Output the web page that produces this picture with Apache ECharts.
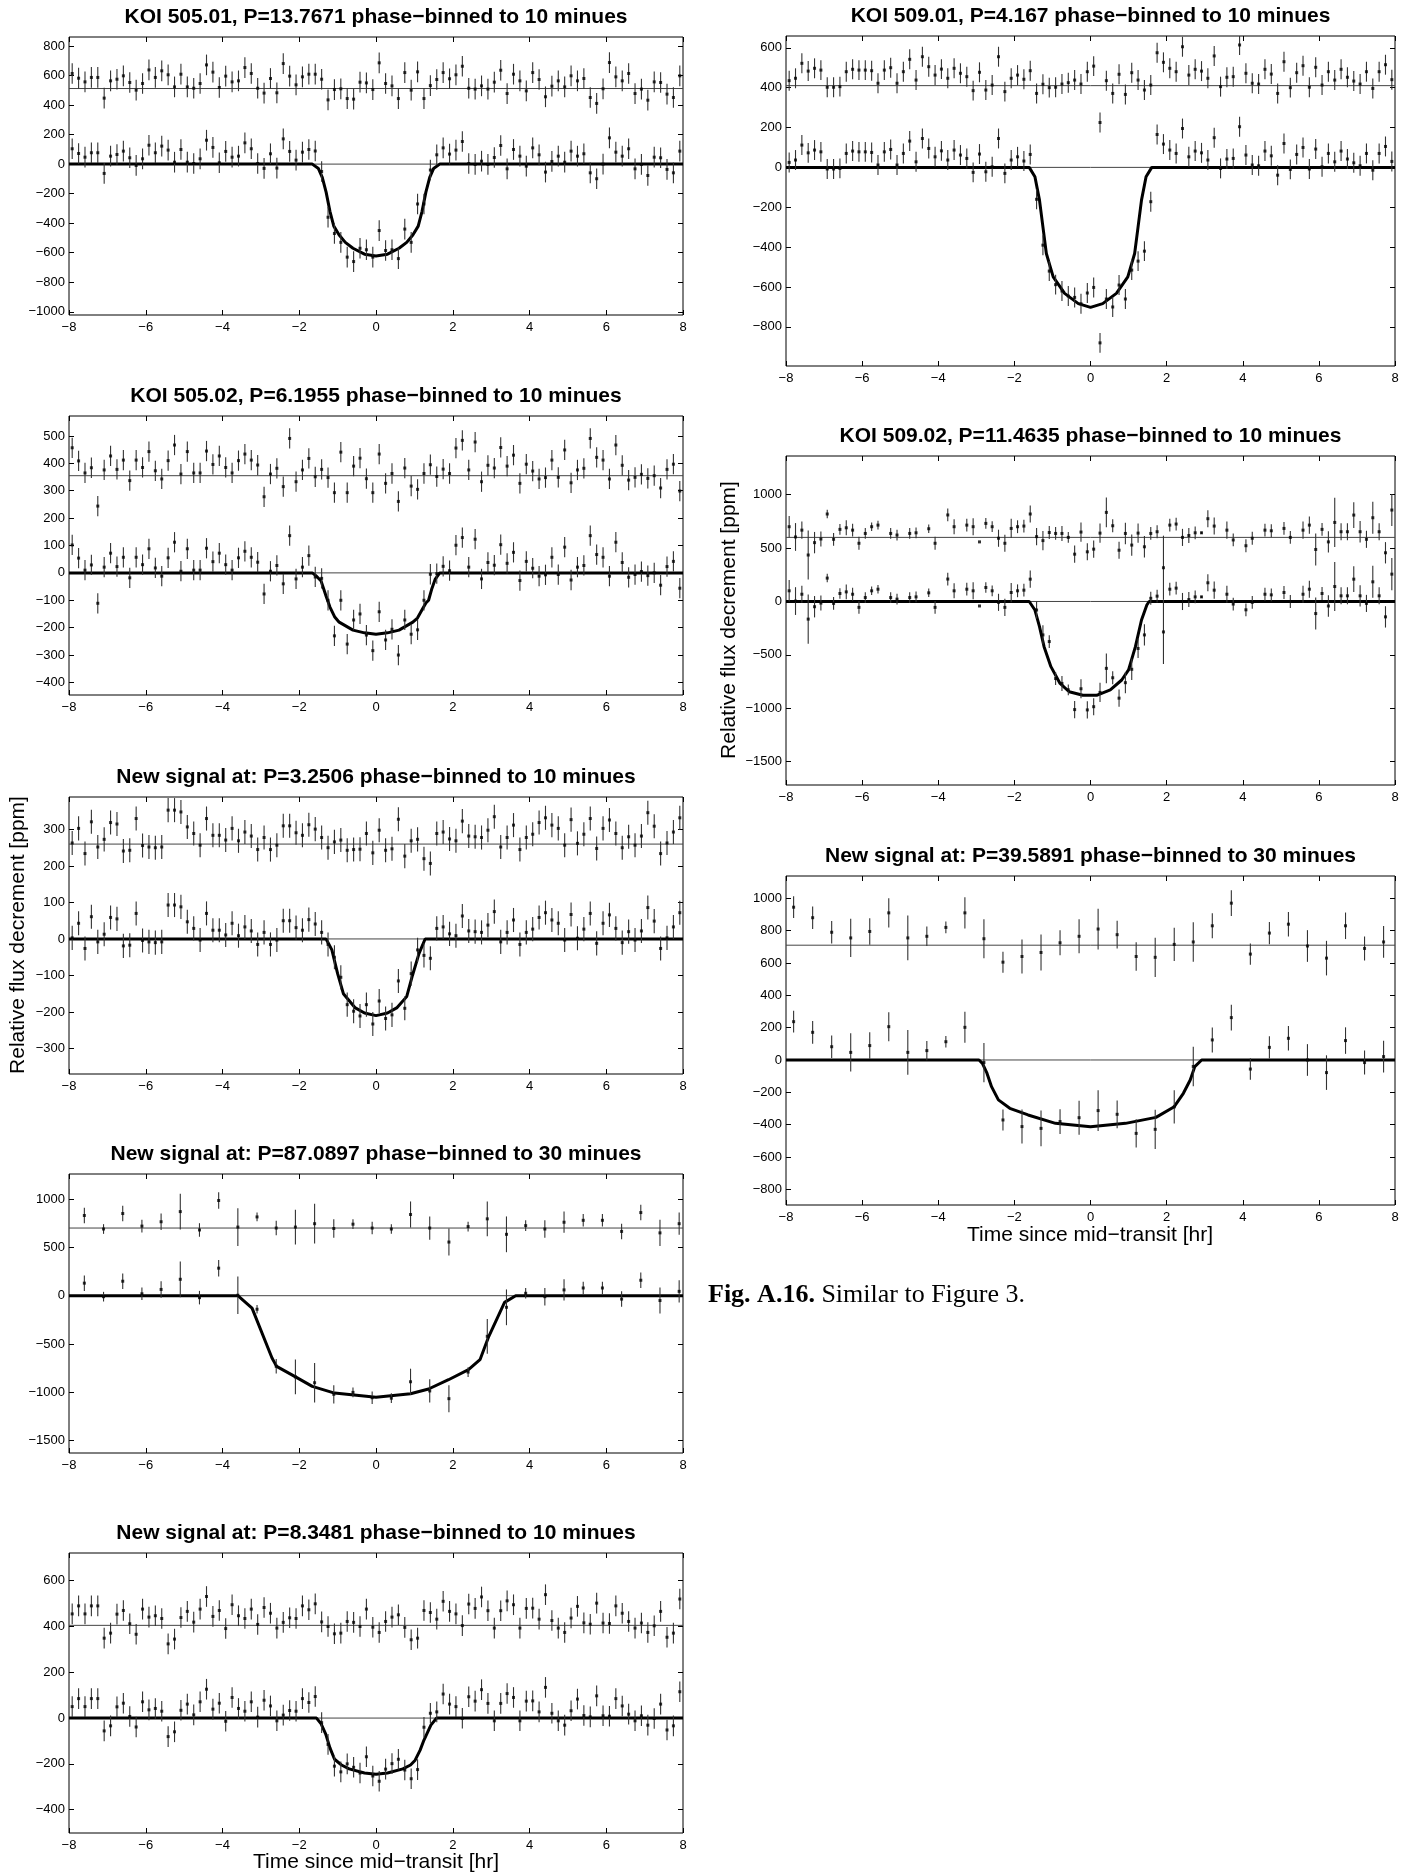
<!DOCTYPE html>
<html><head><meta charset="utf-8">
<script src="https://cdn.jsdelivr.net/npm/echarts@6/dist/echarts.min.js"></script>
<style>html,body{margin:0;padding:0;background:#fff}#c{width:1415px;height:1876px}</style>
</head><body><div id="c"></div>
<script>
// ---------- tick labels ----------
const xTicks = [-8, -6, -4, -2, 0, 2, 4, 6, 8];

// ---------- time grids (bin centres, hr) ----------
function binCenters(start, step, n) { const a = []; for (let i = 0; i < n; i++) a.push(start + step * i); return a; }
const time10 = binCenters(-8 + 1 / 12, 1 / 6, 96);
const time30a = binCenters(-7.6, 0.5, 32);
const time30b = binCenters(-7.8, 0.5, 32);

// ---------- KOI 505.01 ----------
const t50501 = "KOI 505.01, P=13.7671 phase\u2212binned to 10 minues";
const top50501 = [614,582,557,587,587,447,564,575,598,553,501,546,638,587,632,605,523,609,523,514,546,672,623,519,596,557,564,654,614,514,481,580,483,681,596,537,591,609,609,575,435,505,510,444,440,555,550,505,686,546,530,444,620,501,625,444,532,573,620,578,605,663,514,508,530,508,555,636,478,609,564,496,620,573,456,528,564,523,598,564,580,451,411,510,688,591,564,614,478,508,433,557,553,474,451,598];
const bot50501 = [104,72,47,77,77,-63,54,65,88,43,-9,36,128,77,122,95,13,99,13,4,36,162,113,9,86,47,54,144,104,4,-29,70,-27,171,86,27,81,99,
  89,-50,-360,-470,-530,-630,-660,-570,-580,-630,-450,-585,-580,-640,-440,-530,-270,-270,-40,
  63,110,68,95,153,4,-2,20,-2,45,126,-32,99,54,-14,110,63,-54,18,54,13,88,54,70,-59,-99,0,178,81,54,104,-32,-2,-77,47,43,-36,-59,88];
const model50501 = [[-8,0],[-1.66,0],[-1.5,-30],[-1.4,-90],[-1.3,-190],[-1.2,-320],[-1.1,-420],[-0.96,-480],[-0.8,-530],[-0.6,-570],[-0.3,-610],[0,-622],[0.3,-610],[0.6,-570],[0.8,-530],[0.96,-480],[1.1,-420],[1.2,-320],[1.3,-190],[1.4,-90],[1.5,-30],[1.66,0],[8,0]];
const off50501 = 512, err50501 = 70;
const yt50501 = [-1000,-800,-600,-400,-200,0,200,400,600,800], yr50501 = [-1022, 861];

// ---------- KOI 505.02 ----------
const t50502 = "KOI 505.02, P=6.1955 phase\u2212binned to 10 minues";
const top50502 = [457,409,365,384,244,376,427,378,412,337,412,385,443,373,343,410,467,361,443,365,365,445,396,427,385,365,410,434,412,394,278,361,382,315,491,333,376,418,351,378,348,293,441,293,390,419,344,293,434,327,363,261,383,317,305,363,395,352,379,363,456,484,376,478,333,393,383,458,390,430,327,397,372,343,348,412,349,449,329,376,382,491,422,412,343,467,393,339,349,360,345,355,310,378,397,299];
const bot50502 = [102,54,10,29,-111,21,72,23,57,-18,57,30,88,18,-12,55,112,6,88,10,10,90,41,72,30,10,55,79,57,39,-77,6,27,-40,136,-22,21,63,
  -15,-20,-100,-230,-100,-260,-172,-150,-227,-284,-142,-245,-206,-300,-172,-224,-208,-100,-5,-3,
  24,8,101,129,21,123,-22,38,28,103,35,75,-28,42,17,-12,-7,57,-6,94,-26,21,27,136,67,57,-12,112,38,-16,-6,5,-10,0,-45,23,42,-56];
const model50502 = [[-8,0],[-1.66,0],[-1.55,-12],[-1.43,-30],[-1.3,-85],[-1.2,-125],[-1.08,-160],[-0.96,-180],[-0.6,-209],[-0.3,-219],[0,-224],[0.3,-219],[0.6,-209],[0.96,-180],[1.08,-165],[1.2,-135],[1.3,-110],[1.37,-100],[1.45,-60],[1.54,-24],[1.66,0],[8,0]];
const off50502 = 355, err50502 = 37;
const yt50502 = [-400,-300,-200,-100,0,100,200,300,400,500], yr50502 = [-446, 573];

// ---------- New signal P=3.2506 ----------
const tNew32506 = "New signal at: P=3.2506 phase\u2212binned to 10 minues";
const topNew32506 = [263,303,234,321,252,273,319,315,241,243,330,256,252,250,252,353,353,348,307,289,257,330,284,284,271,303,269,293,282,245,278,245,257,310,310,291,284,313,301,278,250,266,271,243,245,246,289,236,298,243,247,328,227,269,273,220,207,289,293,274,269,323,282,280,278,298,335,252,278,312,245,278,287,319,332,312,303,257,327,262,287,330,248,303,326,289,250,280,257,282,346,309,234,263,293,332];
const botNew32506 = [3,43,-26,61,-8,13,59,55,-19,-17,70,-4,-8,-10,-8,93,93,88,47,29,-3,70,24,24,11,43,9,33,22,-15,18,-15,-3,50,50,31,24,53,41,18,
  -15,-50,-105,-180,-198,-211,-180,-233,-170,-218,-208,-115,-190,-95,-30,-45,-53,
  29,33,14,9,63,22,20,18,38,75,-8,18,52,-15,18,27,59,72,52,43,-3,67,2,27,70,-12,43,66,29,-10,20,-3,22,86,49,-26,3,33,72];
const modelNew32506 = [[-8,0],[-1.3,0],[-1.15,-30],[-1.0,-95],[-0.85,-150],[-0.55,-188],[-0.3,-203],[0,-210],[0.3,-203],[0.55,-188],[0.8,-158],[0.95,-100],[1.12,-40],[1.28,0],[8,0]];
const offNew32506 = 260, errNew32506 = 33;
const ytNew32506 = [-300,-200,-100,0,100,200,300], yrNew32506 = [-370, 389];

// ---------- New signal P=87.0897 ----------
const tNew870897 = "New signal at: P=87.0897 phase\u2212binned to 30 minues";
const topNew870897 = [830,690,850,720,765,870,680,985,710,815,700,710,745,695,740,700,690,840,700,555,715,795,635,725,690,760,780,780,665,860,650,745];
const botNew870897 = [130,-10,150,20,65,170,-20,285,5,-140,-730,-840,-900,-1020,-1000,-1055,-1060,-890,-985,-1065,-790,-420,-120,25,-10,60,80,80,-35,160,-50,45];
const errNew870897 = [80,50,80,65,85,185,70,85,195,45,75,180,205,95,50,65,50,135,120,140,50,180,185,55,90,110,65,65,80,80,135,115];
const modelNew870897 = [[-8,0],[-3.6,0],[-3.23,-128],[-2.71,-645],[-2.59,-731],[-2.12,-834],[-1.66,-938],[-1.08,-1007],[0,-1050],[0.9,-1014],[1.37,-965],[1.89,-869],[2.41,-765],[2.71,-662],[2.94,-420],[3.35,-69],[3.64,0],[8,0]];
const offNew870897 = 700;
const ytNew870897 = [-1500,-1000,-500,0,500,1000], yrNew870897 = [-1627, 1259];

// ---------- New signal P=8.3481 ----------
const tNew83481 = "New signal at: P=8.3481 phase\u2212binned to 10 minues";
const topNew83481 = [455,490,455,490,490,349,371,454,470,412,366,476,441,447,435,324,345,439,466,419,476,531,444,470,391,495,447,435,476,409,483,458,393,418,438,435,490,473,499,420,400,368,371,422,418,400,476,397,374,422,441,451,396,342,349,470,461,432,510,466,455,404,498,479,529,469,393,469,512,495,393,479,480,432,539,426,393,374,437,488,416,410,502,415,413,490,458,422,393,415,374,403,466,353,371,520];
const botNew83481 = [50,85,50,85,85,-56,-34,49,65,7,-39,71,36,42,30,-81,-60,34,61,14,71,126,39,65,-14,90,42,30,71,4,78,53,-12,13,33,30,85,68,
  94,-20,-115,-210,-235,-200,-215,-240,-169,-253,-276,-223,-199,-180,-227,-265,-225,-40,21,27,
  105,61,50,-1,93,74,124,64,-12,64,107,90,-12,74,75,27,134,21,-12,-31,32,83,11,5,97,10,8,85,53,17,-12,10,-31,-2,61,-52,-34,115];
const modelNew83481 = [[-8,0],[-1.55,0],[-1.43,-25],[-1.31,-70],[-1.2,-130],[-1.08,-180],[-0.9,-205],[-0.7,-222],[-0.3,-240],[0,-245],[0.3,-240],[0.7,-222],[0.9,-205],[1.02,-184],[1.15,-140],[1.25,-96],[1.43,-31],[1.58,0],[8,0]];
const offNew83481 = 405, errNew83481 = 45;
const ytNew83481 = [-400,-200,0,200,400,600], yrNew83481 = [-502, 721];

// ---------- KOI 509.01 ----------
const t50901 = "KOI 509.01, P=4.167 phase\u2212binned to 10 minues";
const top50901 = [435,447,522,483,497,488,402,402,405,480,492,488,488,485,422,488,500,422,480,542,438,555,505,463,493,447,497,472,455,385,477,388,413,555,380,447,463,442,485,371,417,400,402,418,425,438,418,480,508,225,435,371,467,366,475,438,388,413,
  575,527,497,480,605,463,492,483,447,559,405,452,455,614,472,422,418,492,468,371,530,400,475,510,402,502,413,480,438,492,452,433,418,480,396,480,515,440];
const bot50901 = [25,37,112,73,87,78,-8,-8,-5,70,82,78,78,75,12,78,90,12,70,132,28,145,95,53,83,37,87,62,45,-25,67,-22,3,145,-30,37,53,32,
  65,-160,-390,-520,-588,-620,-645,-652,-684,-630,-602,-880,-660,-700,-590,-660,-515,-470,-420,-172,
  165,117,87,70,195,53,82,73,37,149,-5,42,45,204,62,12,8,82,58,-39,120,-10,65,100,-8,92,3,70,28,82,42,23,8,70,-14,70,105,30];
const model50901 = [[-8,0],[-1.61,0],[-1.46,-47],[-1.34,-164],[-1.25,-298],[-1.16,-432],[-0.98,-549],[-0.68,-632],[-0.32,-683],[0,-702],[0.32,-683],[0.68,-632],[0.98,-549],[1.16,-432],[1.25,-298],[1.34,-164],[1.46,-47],[1.61,0],[8,0]];
const off50901 = 410, err50901 = 50;
const yt50901 = [-800,-600,-400,-200,0,200,400,600], yr50901 = [-996, 659];

// ---------- KOI 509.02 ----------
const t50902 = "KOI 509.02, P=11.4635 phase\u2212binned to 10 minues";
const top50902 = [700,604,668,435,551,585,819,582,675,690,668,545,637,700,715,null,637,622,null,637,643,null,681,545,null,810,700,null,715,700,558,731,700,592,545,684,700,706,819,607,570,646,637,637,600,443,650,465,490,640,834,709,480,637,528,640,512,637,653,316,715,725,600,618,643,643,775,706,null,668,576,null,522,592,null,668,662,null,684,600,null,668,715,487,675,558,740,653,653,809,653,582,784,653,456,856];
const bot50902 = [100,4,68,-165,-49,-15,219,-18,75,90,68,-55,37,100,115,null,37,22,null,37,43,null,81,-55,null,210,100,null,115,100,-42,131,100,-8,-55,84,100,106,
  209,-80,-313,-375,-721,-767,-827,-1012,-817,-1015,-985,-851,-626,-714,-905,-760,-635,-440,-313,30,50,-285,
  115,125,0,18,43,43,175,106,null,68,-24,null,-78,-8,null,68,62,null,84,0,null,68,115,-113,75,-42,140,53,53,209,53,-18,184,53,-144,256];
const err50902 = [100,130,80,230,100,70,40,60,50,70,60,60,50,40,40,null,50,50,null,50,50,null,40,60,null,60,70,null,60,80,0,50,50,80,80,90,60,60,80,80,90,60,60,70,50,80,90,80,80,90,140,60,80,100,100,90,100,60,60,300,60,60,80,70,60,10,80,80,null,80,60,null,60,60,null,60,60,null,60,60,null,80,80,150,60,100,230,80,80,120,100,80,150,80,100,150];
const model50902 = [[-8,0],[-1.61,0],[-1.46,-80],[-1.34,-236],[-1.22,-423],[-1.04,-610],[-0.8,-767],[-0.56,-845],[-0.2,-878],[0.16,-878],[0.52,-828],[0.82,-735],[1.0,-641],[1.18,-423],[1.34,-173],[1.48,-33],[1.54,0],[8,0]];
const off50902 = 600;
const yt50902 = [-1500,-1000,-500,0,500,1000], yr50902 = [-1718, 1362];

// ---------- New signal P=39.5891 ----------
const tNew395891 = "New signal at: P=39.5891 phase\u2212binned to 30 minues";
const topNew395891 = [945,880,790,755,795,910,755,765,820,910,750,605,640,665,725,765,810,775,640,635,715,730,830,970,655,785,840,705,630,830,690,730];
const botNew395891 = [237,171,82,47,89,206,47,58,113,202,-16,-371,-412,-423,-381,-357,-313,-336,-454,-429,-290,-40,124,262,-56,78,134,0,-78,120,-16,21];
const errNew395891 = [67,70,69,118,82,90,138,60,36,96,121,65,105,111,77,105,126,86,88,121,103,122,77,80,66,69,76,98,107,82,74,98];
const modelNew395891 = [[-8,0],[-2.93,0],[-2.84,-21],[-2.72,-82],[-2.6,-165],[-2.42,-247],[-2.12,-299],[-1.64,-340],[-0.92,-392],[0,-413],[0.92,-392],[1.72,-355],[2.2,-289],[2.44,-206],[2.62,-124],[2.74,-41],[2.92,0],[8,0]];
const offNew395891 = 710;
const ytNew395891 = [-800,-600,-400,-200,0,200,400,600,800,1000], yrNew395891 = [-897, 1138];

// ---------- text ----------
const yAxisTitle = "Relative flux decrement [ppm]";
const xAxisTitle = "Time since mid\u2212transit [hr]";
const captionBold = "Fig. A.16.";
const captionText = "Similar to Figure 3.";

// ---------- panels ----------
const panels = [
  {title:t50501, x:time10, top:top50501, bot:bot50501, err:err50501, model:model50501, off:off50501, yt:yt50501, yr:yr50501},
  {title:t50502, x:time10, top:top50502, bot:bot50502, err:err50502, model:model50502, off:off50502, yt:yt50502, yr:yr50502},
  {title:tNew32506, x:time10, top:topNew32506, bot:botNew32506, err:errNew32506, model:modelNew32506, off:offNew32506, yt:ytNew32506, yr:yrNew32506},
  {title:tNew870897, x:time30a, top:topNew870897, bot:botNew870897, err:errNew870897, model:modelNew870897, off:offNew870897, yt:ytNew870897, yr:yrNew870897},
  {title:tNew83481, x:time10, top:topNew83481, bot:botNew83481, err:errNew83481, model:modelNew83481, off:offNew83481, yt:ytNew83481, yr:yrNew83481},
  {title:t50901, x:time10, top:top50901, bot:bot50901, err:err50901, model:model50901, off:off50901, yt:yt50901, yr:yr50901},
  {title:t50902, x:time10, top:top50902, bot:bot50902, err:err50902, model:model50902, off:off50902, yt:yt50902, yr:yr50902},
  {title:tNew395891, x:time30b, top:topNew395891, bot:botNew395891, err:errNew395891, model:modelNew395891, off:offNew395891, yt:ytNew395891, yr:yrNew395891}
];

// ---------- layout (px) ----------
const layout = [
  {left:69, top:37, width:614, height:278},
  {left:69, top:416, width:614, height:279},
  {left:69, top:797, width:614, height:277},
  {left:69, top:1174, width:614, height:279},
  {left:69, top:1553, width:614, height:280},
  {left:786, top:36, width:609, height:330},
  {left:786, top:456, width:609, height:329},
  {left:786, top:876, width:609, height:329}
];
const FONT = '"Liberation Sans", Arial, Helvetica, sans-serif';
const fmt = v => (v < 0 ? '\u2212' + (-v) : String(v));

const grid = [], xAxis = [], yAxis = [], series = [], graphic = [];

function pts(xs, ys, es) {
  const out = [];
  for (let i = 0; i < xs.length; i++) {
    if (ys[i] == null) continue;
    const e = Array.isArray(es) ? es[i] : es;
    out.push([xs[i], ys[i], e == null ? 0 : e]);
  }
  return out;
}
function errRender(params, api) {
  const x = api.value(0), y = api.value(1), e = api.value(2);
  if (!e) return;
  const a = api.coord([x, y - e]), b = api.coord([x, y + e]);
  const cs = params.coordSys;
  const cl = v => Math.max(cs.y, Math.min(cs.y + cs.height, v));
  return {type:'line', shape:{x1:a[0], y1:cl(a[1]), x2:b[0], y2:cl(b[1])}, style:{stroke:'#333', lineWidth:1.1}};
}

panels.forEach((p, k) => {
  const L = layout[k];
  grid.push({left:L.left, top:L.top, width:L.width, height:L.height, show:true, borderColor:'#000', borderWidth:1, backgroundColor:'transparent'});
  const xi = xAxis.length, yi = yAxis.length;
  const xBase = {type:'value', gridIndex:k, min:-8, max:8, interval:2, axisLine:{show:false, onZero:false}, splitLine:{show:false},
    axisTick:{inside:true, length:5, lineStyle:{color:'#000', width:1}}};
  xAxis.push(Object.assign({}, xBase, {position:'bottom', axisLabel:{fontFamily:FONT, fontSize:13, color:'#000', margin:6, formatter:fmt}}));
  xAxis.push(Object.assign({}, xBase, {position:'top', axisLabel:{show:false}}));
  const yBase = {type:'value', gridIndex:k, min:p.yr[0], max:p.yr[1], axisLine:{show:false, onZero:false}, splitLine:{show:false}};
  yAxis.push(Object.assign({}, yBase, {position:'left',
    axisTick:{inside:true, length:5, customValues:p.yt, lineStyle:{color:'#000', width:1}},
    axisLabel:{customValues:p.yt, fontFamily:FONT, fontSize:13, color:'#000', margin:4, formatter:fmt}}));
  yAxis.push(Object.assign({}, yBase, {position:'right',
    axisTick:{inside:true, length:5, customValues:p.yt, lineStyle:{color:'#000', width:1}},
    axisLabel:{show:false, customValues:p.yt}}));

  const ax = {xAxisIndex:xi, yAxisIndex:yi};
  const hline = y => Object.assign({type:'line', data:[[-8, y], [8, y]], showSymbol:false, silent:true, z:2,
    lineStyle:{color:'#444', width:1}}, ax);
  series.push(hline(0));
  series.push(hline(p.off));
  series.push(Object.assign({type:'line', data:p.model, showSymbol:false, silent:true, z:3,
    lineStyle:{color:'#000', width:3}}, ax));
  const topPts = pts(p.x, p.top, p.err), botPts = pts(p.x, p.bot, p.err);
  [topPts, botPts].forEach(d => {
    series.push(Object.assign({type:'custom', data:d, renderItem:errRender, silent:true, z:4}, ax));
    series.push(Object.assign({type:'scatter', data:d, symbol:'rect', symbolSize:3, silent:true, z:5,
      itemStyle:{color:'#000'}}, ax));
  });

  graphic.push({type:'text', x:L.left + L.width / 2, y:L.top - 20, style:{text:p.title, fill:'#000',
    font:'bold 21px ' + FONT, align:'center', verticalAlign:'middle'}});
});

graphic.push({type:'text', x:18, y:935, rotation:Math.PI / 2, style:{text:yAxisTitle, fill:'#000', font:'21px ' + FONT, align:'center', verticalAlign:'middle'}});
graphic.push({type:'text', x:729, y:620, rotation:Math.PI / 2, style:{text:yAxisTitle, fill:'#000', font:'21px ' + FONT, align:'center', verticalAlign:'middle'}});
graphic.push({type:'text', x:376, y:1862, style:{text:xAxisTitle, fill:'#000', font:'21px ' + FONT, align:'center', verticalAlign:'middle'}});
graphic.push({type:'text', x:1090, y:1235, style:{text:xAxisTitle, fill:'#000', font:'21px ' + FONT, align:'center', verticalAlign:'middle'}});
graphic.push({type:'text', x:708, y:1295, style:{text:'{b|' + captionBold + '} ' + captionText, fill:'#000',
  fontFamily:'"Liberation Serif", "Times New Roman", serif', fontSize:26, verticalAlign:'middle',
  rich:{b:{fontWeight:'bold', fontFamily:'"Liberation Serif", "Times New Roman", serif', fontSize:26}}}});

const chart = echarts.init(document.getElementById('c'), null, {renderer:'canvas'});
chart.setOption({backgroundColor:'#fff', animation:false, grid, xAxis, yAxis, series, graphic});
</script></body></html>
